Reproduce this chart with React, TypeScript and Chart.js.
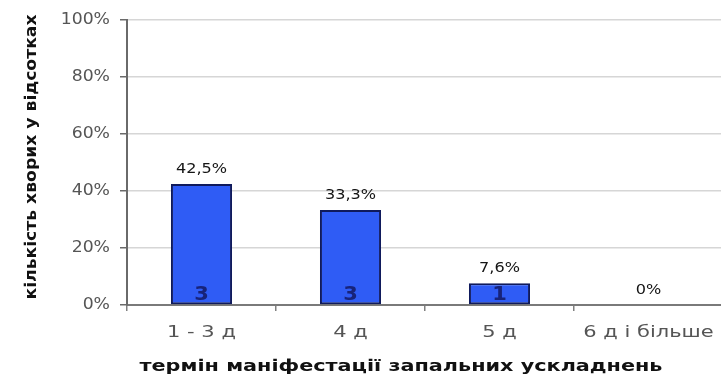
import React, { useEffect, useRef } from "react";
import { Chart, registerables } from "chart.js";

Chart.register(...registerables);

const categories = ["1 - 3 д", "4 д", "5 д", "6 д і більше"];
const percentValues = [42.5, 33.3, 7.6, 0];
const percentLabels = ["42,5%", "33,3%", "7,6%", "0%"];
const patientCounts = ["3", "3", "1", ""];
const yTickValues = [0, 20, 40, 60, 80, 100];
const yTitle = "кількість хворих у відсотках";
const xTitle = "термін маніфестації запальних ускладнень";

const FONT = '"DejaVu Sans", Verdana, sans-serif';

function drawStretched(
  ctx: CanvasRenderingContext2D,
  text: string,
  x: number,
  y: number,
  font: string,
  color: string,
  sx: number,
  align: CanvasTextAlign = "center",
  baseline: CanvasTextBaseline = "middle"
) {
  ctx.save();
  ctx.font = font;
  ctx.fillStyle = color;
  ctx.textAlign = align;
  ctx.textBaseline = baseline;
  ctx.translate(x, y);
  ctx.scale(sx, 1);
  ctx.fillText(text, 0, 0);
  ctx.restore();
}

const textPlugin = {
  id: "textPlugin",
  afterDraw(chart: any) {
    const ctx: CanvasRenderingContext2D = chart.ctx;
    const xs = chart.scales.x;
    const ys = chart.scales.y;
    const area = chart.chartArea;

    // y tick labels
    yTickValues.forEach((v) => {
      drawStretched(ctx, `${v}%`, area.left - 17, ys.getPixelForValue(v), `15px ${FONT}`, "#555", 1.15, "right");
    });

    // x tick labels
    categories.forEach((c, i) => {
      drawStretched(ctx, c, xs.getPixelForTick(i), area.bottom + 28, `15px ${FONT}`, "#555", 1.4);
    });

    // bar labels
    const meta = chart.getDatasetMeta(0);
    meta.data.forEach((bar: any, i: number) => {
      const p = bar.getProps(["x", "y", "base"], true);
      drawStretched(ctx, percentLabels[i], p.x, p.y - 11, `14px ${FONT}`, "#151515", 1.15, "center", "alphabetic");
      if (patientCounts[i]) {
        drawStretched(ctx, patientCounts[i], p.x, p.base - 4, `bold 20px ${FONT}`, "#17237a", 1.05, "center", "alphabetic");
      }
    });

    // x title (fit to width)
    ctx.save();
    ctx.font = `bold 16px ${FONT}`;
    const wx = ctx.measureText(xTitle).width;
    ctx.restore();
    drawStretched(ctx, xTitle, 401, area.bottom + 61.5, `bold 16px ${FONT}`, "#111", 523 / wx);

    // y title (rotated, fit to length)
    ctx.save();
    ctx.font = `bold 16px ${FONT}`;
    const wy = ctx.measureText(yTitle).width;
    ctx.translate(31.5, 157);
    ctx.rotate(-Math.PI / 2);
    ctx.scale(285 / wy, 1);
    ctx.fillStyle = "#111";
    ctx.textAlign = "center";
    ctx.textBaseline = "middle";
    ctx.fillText(yTitle, 0, 0);
    ctx.restore();
  },
};

export default function App() {
  const canvasRef = useRef<HTMLCanvasElement | null>(null);

  useEffect(() => {
    document.body.style.margin = "0";
    const canvas = canvasRef.current;
    if (!canvas) return;
    const chart = new Chart(canvas, {
      type: "bar",
      data: {
        labels: categories,
        datasets: [
          {
            data: percentValues,
            backgroundColor: "#2f5cf5",
            borderColor: "#0f1a5c",
            borderWidth: 2,
            borderSkipped: false,
            barPercentage: 0.41,
            categoryPercentage: 1,
          },
        ],
      },
      options: {
        animation: false,
        responsive: false,
        maintainAspectRatio: false,
        layout: { padding: { top: 20, right: 0, bottom: 0, left: 0 } },
        plugins: {
          legend: { display: false },
          tooltip: { enabled: false },
        },
        scales: {
          x: {
            type: "category",
            offset: true,
            grid: {
              display: true,
              offset: true,
              drawOnChartArea: false,
              drawTicks: true,
              tickLength: 6,
              tickColor: "#808080",
              lineWidth: 1.5,
            },
            border: { display: true, color: "#7a7a7a", width: 2 },
            ticks: { display: false },
            afterFit: (s: any) => {
              s.height = 74;
            },
          },
          y: {
            min: 0,
            max: 100,
            ticks: { display: false, stepSize: 20 },
            grid: {
              color: "#d6d6d6",
              lineWidth: 1.5,
              tickLength: 7,
              tickColor: "#6a6a6a",
            },
            border: { display: true, color: "#6a6a6a", width: 2 },
            afterFit: (s: any) => {
              s.width = 127;
            },
          },
        },
      } as any,
      plugins: [textPlugin],
    });
    return () => chart.destroy();
  }, []);

  return (
    <div style={{ width: 721, height: 379, overflow: "hidden", position: "relative", background: "#fff" }}>
      <canvas ref={canvasRef} width={723} height={379} style={{ display: "block", width: 723, height: 379 }} />
    </div>
  );
}
